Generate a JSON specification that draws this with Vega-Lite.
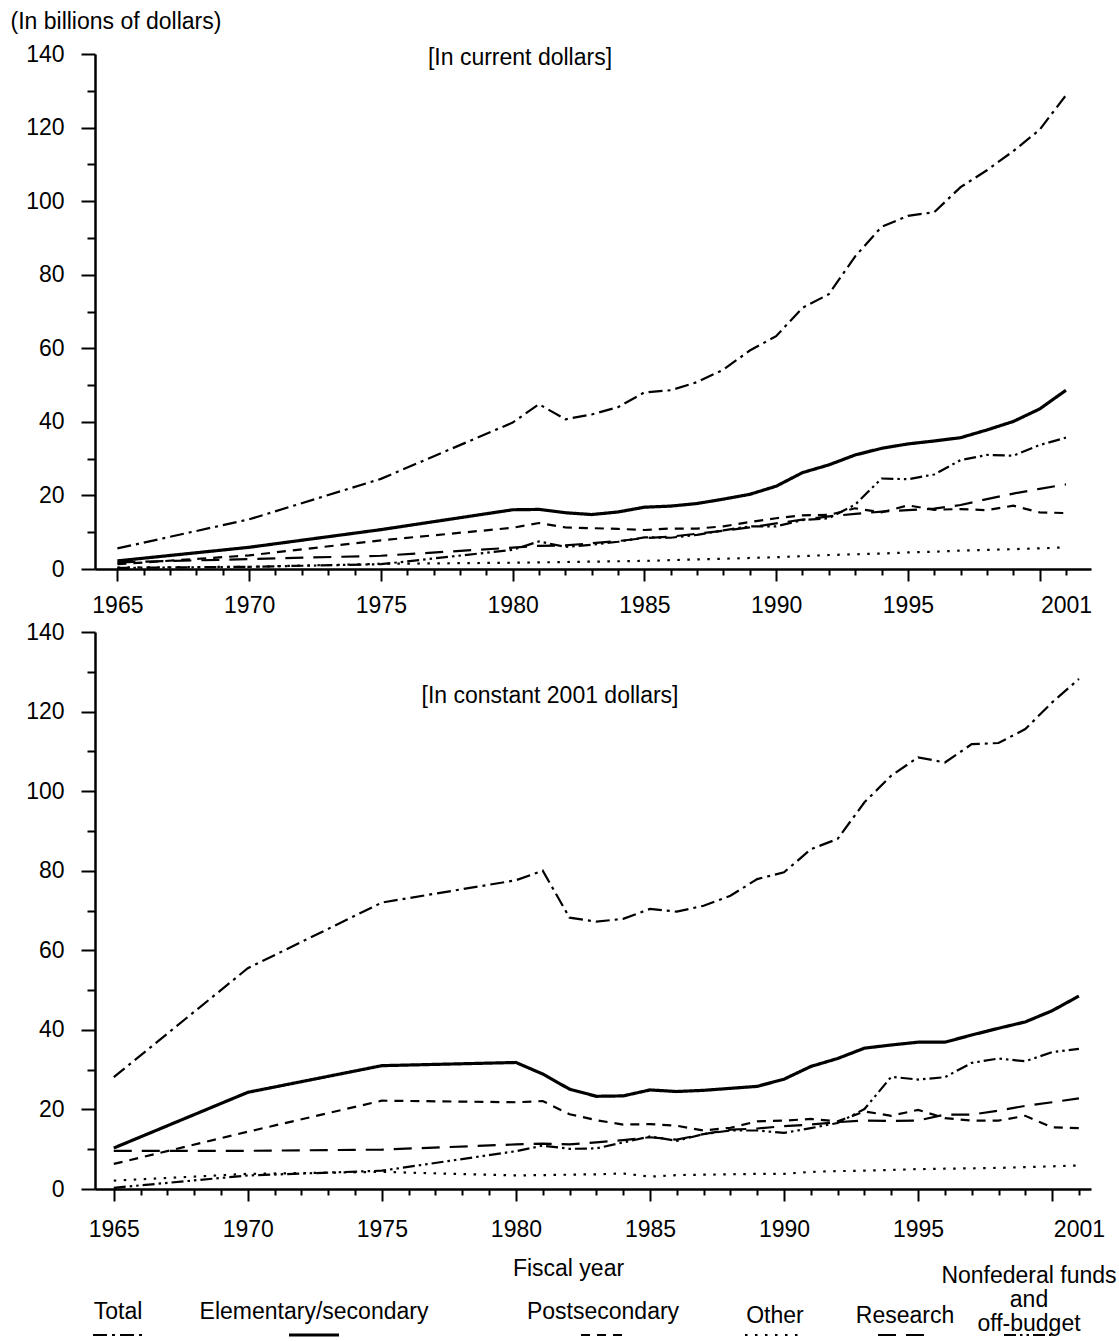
{
  "$schema": "https://vega.github.io/schema/vega-lite/v6.json",
  "padding": {"left": 10, "top": 10, "right": 0, "bottom": 0},
  "background": "white",
  "config": {
    "font": "Liberation Sans",
    "view": {"stroke": null},
    "axis": {"domainColor": "#000", "tickColor": "#000", "labelColor": "#000", "titleColor": "#000", "grid": false, "labelFontSize": 23, "titleFontSize": 23, "titleFontWeight": "normal", "domainWidth": 2.5, "tickWidth": 2, "labelFlush": false, "labelOverlap": false},
    "title": {"fontSize": 23, "fontWeight": "normal", "color": "#000"},
    "text": {"fontSize": 23, "color": "#000"}
  },
  "datasets": {
    "current": [
      {"year":1965,"series":"Total","value":5.6},{"year":1965,"series":"Elementary/secondary","value":2.2},{"year":1965,"series":"Postsecondary","value":1.3},{"year":1965,"series":"Other","value":0.4},{"year":1965,"series":"Research","value":1.8},{"year":1965,"series":"Nonfederal funds and off-budget","value":0.3},
      {"year":1970,"series":"Total","value":13.5},{"year":1970,"series":"Elementary/secondary","value":5.9},{"year":1970,"series":"Postsecondary","value":3.7},{"year":1970,"series":"Other","value":0.6},{"year":1970,"series":"Research","value":2.7},{"year":1970,"series":"Nonfederal funds and off-budget","value":0.6},
      {"year":1975,"series":"Total","value":24.5},{"year":1975,"series":"Elementary/secondary","value":10.7},{"year":1975,"series":"Postsecondary","value":7.8},{"year":1975,"series":"Other","value":1.4},{"year":1975,"series":"Research","value":3.6},{"year":1975,"series":"Nonfederal funds and off-budget","value":1.3},
      {"year":1980,"series":"Total","value":39.8},{"year":1980,"series":"Elementary/secondary","value":16.1},{"year":1980,"series":"Postsecondary","value":11.2},{"year":1980,"series":"Other","value":1.7},{"year":1980,"series":"Research","value":5.8},{"year":1980,"series":"Nonfederal funds and off-budget","value":5.2},
      {"year":1981,"series":"Total","value":44.8},{"year":1981,"series":"Elementary/secondary","value":16.2},{"year":1981,"series":"Postsecondary","value":12.5},{"year":1981,"series":"Other","value":1.8},{"year":1981,"series":"Research","value":6.3},{"year":1981,"series":"Nonfederal funds and off-budget","value":7.5},
      {"year":1982,"series":"Total","value":40.7},{"year":1982,"series":"Elementary/secondary","value":15.3},{"year":1982,"series":"Postsecondary","value":11.3},{"year":1982,"series":"Other","value":1.9},{"year":1982,"series":"Research","value":6.4},{"year":1982,"series":"Nonfederal funds and off-budget","value":6.0},
      {"year":1983,"series":"Total","value":42.0},{"year":1983,"series":"Elementary/secondary","value":14.8},{"year":1983,"series":"Postsecondary","value":11.1},{"year":1983,"series":"Other","value":2.0},{"year":1983,"series":"Research","value":7.0},{"year":1983,"series":"Nonfederal funds and off-budget","value":6.6},
      {"year":1984,"series":"Total","value":44.0},{"year":1984,"series":"Elementary/secondary","value":15.5},{"year":1984,"series":"Postsecondary","value":10.9},{"year":1984,"series":"Other","value":2.1},{"year":1984,"series":"Research","value":7.6},{"year":1984,"series":"Nonfederal funds and off-budget","value":7.4},
      {"year":1985,"series":"Total","value":48.0},{"year":1985,"series":"Elementary/secondary","value":16.8},{"year":1985,"series":"Postsecondary","value":10.6},{"year":1985,"series":"Other","value":2.2},{"year":1985,"series":"Research","value":8.4},{"year":1985,"series":"Nonfederal funds and off-budget","value":8.6},
      {"year":1986,"series":"Total","value":48.6},{"year":1986,"series":"Elementary/secondary","value":17.1},{"year":1986,"series":"Postsecondary","value":11.0},{"year":1986,"series":"Other","value":2.4},{"year":1986,"series":"Research","value":8.8},{"year":1986,"series":"Nonfederal funds and off-budget","value":8.5},
      {"year":1987,"series":"Total","value":50.8},{"year":1987,"series":"Elementary/secondary","value":17.8},{"year":1987,"series":"Postsecondary","value":11.0},{"year":1987,"series":"Other","value":2.6},{"year":1987,"series":"Research","value":9.6},{"year":1987,"series":"Nonfederal funds and off-budget","value":9.3},
      {"year":1988,"series":"Total","value":54.2},{"year":1988,"series":"Elementary/secondary","value":19.0},{"year":1988,"series":"Postsecondary","value":11.6},{"year":1988,"series":"Other","value":2.8},{"year":1988,"series":"Research","value":10.4},{"year":1988,"series":"Nonfederal funds and off-budget","value":10.5},
      {"year":1989,"series":"Total","value":59.4},{"year":1989,"series":"Elementary/secondary","value":20.3},{"year":1989,"series":"Postsecondary","value":12.8},{"year":1989,"series":"Other","value":3.0},{"year":1989,"series":"Research","value":11.3},{"year":1989,"series":"Nonfederal funds and off-budget","value":11.6},
      {"year":1990,"series":"Total","value":63.3},{"year":1990,"series":"Elementary/secondary","value":22.5},{"year":1990,"series":"Postsecondary","value":13.8},{"year":1990,"series":"Other","value":3.2},{"year":1990,"series":"Research","value":12.4},{"year":1990,"series":"Nonfederal funds and off-budget","value":11.6},
      {"year":1991,"series":"Total","value":71.0},{"year":1991,"series":"Elementary/secondary","value":26.2},{"year":1991,"series":"Postsecondary","value":14.6},{"year":1991,"series":"Other","value":3.5},{"year":1991,"series":"Research","value":13.4},{"year":1991,"series":"Nonfederal funds and off-budget","value":13.3},
      {"year":1992,"series":"Total","value":74.7},{"year":1992,"series":"Elementary/secondary","value":28.3},{"year":1992,"series":"Postsecondary","value":14.7},{"year":1992,"series":"Other","value":3.8},{"year":1992,"series":"Research","value":14.3},{"year":1992,"series":"Nonfederal funds and off-budget","value":13.8},
      {"year":1993,"series":"Total","value":85.0},{"year":1993,"series":"Elementary/secondary","value":31.0},{"year":1993,"series":"Postsecondary","value":16.5},{"year":1993,"series":"Other","value":4.0},{"year":1993,"series":"Research","value":15.0},{"year":1993,"series":"Nonfederal funds and off-budget","value":17.5},
      {"year":1994,"series":"Total","value":93.0},{"year":1994,"series":"Elementary/secondary","value":32.8},{"year":1994,"series":"Postsecondary","value":15.4},{"year":1994,"series":"Other","value":4.2},{"year":1994,"series":"Research","value":15.6},{"year":1994,"series":"Nonfederal funds and off-budget","value":24.6},
      {"year":1995,"series":"Total","value":96.0},{"year":1995,"series":"Elementary/secondary","value":34.0},{"year":1995,"series":"Postsecondary","value":17.3},{"year":1995,"series":"Other","value":4.5},{"year":1995,"series":"Research","value":16.0},{"year":1995,"series":"Nonfederal funds and off-budget","value":24.4},
      {"year":1996,"series":"Total","value":97.0},{"year":1996,"series":"Elementary/secondary","value":34.8},{"year":1996,"series":"Postsecondary","value":16.1},{"year":1996,"series":"Other","value":4.7},{"year":1996,"series":"Research","value":16.4},{"year":1996,"series":"Nonfederal funds and off-budget","value":25.7},
      {"year":1997,"series":"Total","value":103.8},{"year":1997,"series":"Elementary/secondary","value":35.7},{"year":1997,"series":"Postsecondary","value":16.3},{"year":1997,"series":"Other","value":5.0},{"year":1997,"series":"Research","value":17.4},{"year":1997,"series":"Nonfederal funds and off-budget","value":29.6},
      {"year":1998,"series":"Total","value":108.4},{"year":1998,"series":"Elementary/secondary","value":37.8},{"year":1998,"series":"Postsecondary","value":16.0},{"year":1998,"series":"Other","value":5.2},{"year":1998,"series":"Research","value":19.0},{"year":1998,"series":"Nonfederal funds and off-budget","value":31.0},
      {"year":1999,"series":"Total","value":113.6},{"year":1999,"series":"Elementary/secondary","value":40.1},{"year":1999,"series":"Postsecondary","value":17.2},{"year":1999,"series":"Other","value":5.4},{"year":1999,"series":"Research","value":20.5},{"year":1999,"series":"Nonfederal funds and off-budget","value":30.8},
      {"year":2000,"series":"Total","value":119.4},{"year":2000,"series":"Elementary/secondary","value":43.5},{"year":2000,"series":"Postsecondary","value":15.4},{"year":2000,"series":"Other","value":5.6},{"year":2000,"series":"Research","value":21.8},{"year":2000,"series":"Nonfederal funds and off-budget","value":33.7},
      {"year":2001,"series":"Total","value":128.8},{"year":2001,"series":"Elementary/secondary","value":48.6},{"year":2001,"series":"Postsecondary","value":15.2},{"year":2001,"series":"Other","value":5.9},{"year":2001,"series":"Research","value":23.0},{"year":2001,"series":"Nonfederal funds and off-budget","value":35.7}
    ],
    "constant": [
      {"year":1965,"series":"Total","value":28.1},{"year":1965,"series":"Elementary/secondary","value":10.3},{"year":1965,"series":"Postsecondary","value":6.3},{"year":1965,"series":"Other","value":2.1},{"year":1965,"series":"Research","value":9.6},{"year":1965,"series":"Nonfederal funds and off-budget","value":0.3},
      {"year":1970,"series":"Total","value":55.5},{"year":1970,"series":"Elementary/secondary","value":24.3},{"year":1970,"series":"Postsecondary","value":14.4},{"year":1970,"series":"Other","value":3.8},{"year":1970,"series":"Research","value":9.6},{"year":1970,"series":"Nonfederal funds and off-budget","value":3.4},
      {"year":1975,"series":"Total","value":72.0},{"year":1975,"series":"Elementary/secondary","value":31.0},{"year":1975,"series":"Postsecondary","value":22.2},{"year":1975,"series":"Other","value":4.3},{"year":1975,"series":"Research","value":9.9},{"year":1975,"series":"Nonfederal funds and off-budget","value":4.6},
      {"year":1980,"series":"Total","value":77.6},{"year":1980,"series":"Elementary/secondary","value":31.8},{"year":1980,"series":"Postsecondary","value":21.8},{"year":1980,"series":"Other","value":3.4},{"year":1980,"series":"Research","value":11.2},{"year":1980,"series":"Nonfederal funds and off-budget","value":9.5},
      {"year":1981,"series":"Total","value":80.0},{"year":1981,"series":"Elementary/secondary","value":28.9},{"year":1981,"series":"Postsecondary","value":22.1},{"year":1981,"series":"Other","value":3.5},{"year":1981,"series":"Research","value":11.4},{"year":1981,"series":"Nonfederal funds and off-budget","value":10.9},
      {"year":1982,"series":"Total","value":68.2},{"year":1982,"series":"Elementary/secondary","value":25.1},{"year":1982,"series":"Postsecondary","value":18.8},{"year":1982,"series":"Other","value":3.6},{"year":1982,"series":"Research","value":11.2},{"year":1982,"series":"Nonfederal funds and off-budget","value":10.1},
      {"year":1983,"series":"Total","value":67.2},{"year":1983,"series":"Elementary/secondary","value":23.3},{"year":1983,"series":"Postsecondary","value":17.3},{"year":1983,"series":"Other","value":3.7},{"year":1983,"series":"Research","value":11.7},{"year":1983,"series":"Nonfederal funds and off-budget","value":10.2},
      {"year":1984,"series":"Total","value":67.9},{"year":1984,"series":"Elementary/secondary","value":23.4},{"year":1984,"series":"Postsecondary","value":16.2},{"year":1984,"series":"Other","value":3.9},{"year":1984,"series":"Research","value":12.3},{"year":1984,"series":"Nonfederal funds and off-budget","value":11.7},
      {"year":1985,"series":"Total","value":70.4},{"year":1985,"series":"Elementary/secondary","value":24.9},{"year":1985,"series":"Postsecondary","value":16.3},{"year":1985,"series":"Other","value":3.1},{"year":1985,"series":"Research","value":13.0},{"year":1985,"series":"Nonfederal funds and off-budget","value":13.2},
      {"year":1986,"series":"Total","value":69.7},{"year":1986,"series":"Elementary/secondary","value":24.5},{"year":1986,"series":"Postsecondary","value":15.9},{"year":1986,"series":"Other","value":3.5},{"year":1986,"series":"Research","value":12.4},{"year":1986,"series":"Nonfederal funds and off-budget","value":12.1},
      {"year":1987,"series":"Total","value":71.2},{"year":1987,"series":"Elementary/secondary","value":24.8},{"year":1987,"series":"Postsecondary","value":14.7},{"year":1987,"series":"Other","value":3.6},{"year":1987,"series":"Research","value":13.8},{"year":1987,"series":"Nonfederal funds and off-budget","value":13.8},
      {"year":1988,"series":"Total","value":73.7},{"year":1988,"series":"Elementary/secondary","value":25.3},{"year":1988,"series":"Postsecondary","value":15.4},{"year":1988,"series":"Other","value":3.7},{"year":1988,"series":"Research","value":14.9},{"year":1988,"series":"Nonfederal funds and off-budget","value":14.7},
      {"year":1989,"series":"Total","value":77.9},{"year":1989,"series":"Elementary/secondary","value":25.8},{"year":1989,"series":"Postsecondary","value":17.0},{"year":1989,"series":"Other","value":3.8},{"year":1989,"series":"Research","value":15.2},{"year":1989,"series":"Nonfederal funds and off-budget","value":14.7},
      {"year":1990,"series":"Total","value":79.6},{"year":1990,"series":"Elementary/secondary","value":27.6},{"year":1990,"series":"Postsecondary","value":17.2},{"year":1990,"series":"Other","value":3.8},{"year":1990,"series":"Research","value":15.8},{"year":1990,"series":"Nonfederal funds and off-budget","value":14.1},
      {"year":1991,"series":"Total","value":85.4},{"year":1991,"series":"Elementary/secondary","value":30.8},{"year":1991,"series":"Postsecondary","value":17.6},{"year":1991,"series":"Other","value":4.3},{"year":1991,"series":"Research","value":16.2},{"year":1991,"series":"Nonfederal funds and off-budget","value":15.3},
      {"year":1992,"series":"Total","value":88.0},{"year":1992,"series":"Elementary/secondary","value":32.8},{"year":1992,"series":"Postsecondary","value":17.0},{"year":1992,"series":"Other","value":4.5},{"year":1992,"series":"Research","value":16.8},{"year":1992,"series":"Nonfederal funds and off-budget","value":16.6},
      {"year":1993,"series":"Total","value":97.2},{"year":1993,"series":"Elementary/secondary","value":35.4},{"year":1993,"series":"Postsecondary","value":19.5},{"year":1993,"series":"Other","value":4.6},{"year":1993,"series":"Research","value":17.2},{"year":1993,"series":"Nonfederal funds and off-budget","value":20.1},
      {"year":1994,"series":"Total","value":103.9},{"year":1994,"series":"Elementary/secondary","value":36.2},{"year":1994,"series":"Postsecondary","value":18.4},{"year":1994,"series":"Other","value":4.8},{"year":1994,"series":"Research","value":17.1},{"year":1994,"series":"Nonfederal funds and off-budget","value":28.2},
      {"year":1995,"series":"Total","value":108.5},{"year":1995,"series":"Elementary/secondary","value":36.9},{"year":1995,"series":"Postsecondary","value":19.9},{"year":1995,"series":"Other","value":5.0},{"year":1995,"series":"Research","value":17.2},{"year":1995,"series":"Nonfederal funds and off-budget","value":27.5},
      {"year":1996,"series":"Total","value":107.2},{"year":1996,"series":"Elementary/secondary","value":36.9},{"year":1996,"series":"Postsecondary","value":17.8},{"year":1996,"series":"Other","value":5.1},{"year":1996,"series":"Research","value":18.7},{"year":1996,"series":"Nonfederal funds and off-budget","value":28.1},
      {"year":1997,"series":"Total","value":111.8},{"year":1997,"series":"Elementary/secondary","value":38.7},{"year":1997,"series":"Postsecondary","value":17.2},{"year":1997,"series":"Other","value":5.2},{"year":1997,"series":"Research","value":18.7},{"year":1997,"series":"Nonfederal funds and off-budget","value":31.7},
      {"year":1998,"series":"Total","value":112.1},{"year":1998,"series":"Elementary/secondary","value":40.4},{"year":1998,"series":"Postsecondary","value":17.2},{"year":1998,"series":"Other","value":5.3},{"year":1998,"series":"Research","value":19.7},{"year":1998,"series":"Nonfederal funds and off-budget","value":32.8},
      {"year":1999,"series":"Total","value":115.6},{"year":1999,"series":"Elementary/secondary","value":42.0},{"year":1999,"series":"Postsecondary","value":18.4},{"year":1999,"series":"Other","value":5.5},{"year":1999,"series":"Research","value":20.9},{"year":1999,"series":"Nonfederal funds and off-budget","value":32.1},
      {"year":2000,"series":"Total","value":122.3},{"year":2000,"series":"Elementary/secondary","value":44.8},{"year":2000,"series":"Postsecondary","value":15.5},{"year":2000,"series":"Other","value":5.7},{"year":2000,"series":"Research","value":21.8},{"year":2000,"series":"Nonfederal funds and off-budget","value":34.4},
      {"year":2001,"series":"Total","value":128.2},{"year":2001,"series":"Elementary/secondary","value":48.5},{"year":2001,"series":"Postsecondary","value":15.3},{"year":2001,"series":"Other","value":5.9},{"year":2001,"series":"Research","value":22.8},{"year":2001,"series":"Nonfederal funds and off-budget","value":35.2}
    ],
    "legend": [
      {"series":"Total","label":"Total"},
      {"series":"Elementary/secondary","label":"Elementary/secondary"},
      {"series":"Postsecondary","label":"Postsecondary"},
      {"series":"Other","label":"Other"},
      {"series":"Research","label":"Research"},
      {"series":"Nonfederal funds and off-budget","label":"Nonfederal funds\nand\noff-budget"}
    ]
  },
  "bounds": "flush",
  "spacing": 63,
  "vconcat": [
    {
      "width": 996,
      "height": 515,
      "data": {"name": "current"},
      "title": {"text": "[In current dollars]", "frame": "group", "anchor": "middle", "baseline": "middle", "offset": 0, "dx": -73, "dy": 71},
      "mark": {"type": "line", "color": "#000", "strokeCap": "butt"},
      "encoding": {
        "x": {"field": "year", "type": "quantitative", "scale": {"domain": [1964.15, 2001.95], "nice": false, "zero": false},
          "axis": {"title": null, "format": "d", "values": [1965,1966,1967,1968,1969,1970,1971,1972,1973,1974,1975,1976,1977,1978,1979,1980,1981,1982,1983,1984,1985,1986,1987,1988,1989,1990,1991,1992,1993,1994,1995,1996,1997,1998,1999,2000,2001],
            "labelExpr": "(((datum.value - 1965) % 5 === 0) && datum.value < 2000) || datum.value === 2001 ? datum.label : ''",
            "tickSize": {"condition": {"test": "(datum.value - 1965) % 5 === 0", "value": 12}, "value": 6},
            "labelPadding": {"condition": {"test": "(datum.value - 1965) % 5 === 0", "value": 13}, "value": 19}}},
        "y": {"field": "value", "type": "quantitative", "scale": {"domain": [0, 140], "nice": false},
          "axis": {"values": [0,10,20,30,40,50,60,70,80,90,100,110,120,130,140],
            "labelExpr": "datum.value % 20 === 0 ? datum.label : ''",
            "tickSize": {"condition": {"test": "datum.value % 20 === 0", "value": 14}, "value": 8},
            "labelPadding": {"condition": {"test": "datum.value % 20 === 0", "value": 17}, "value": 23},
            "title": "(In billions of dollars)", "titleAngle": 0, "titleAlign": "left", "titleBaseline": "middle", "titleX": -85, "titleY": -33}},
        "strokeDash": {"field": "series", "type": "nominal", "legend": null,
          "scale": {"domain": ["Total","Elementary/secondary","Postsecondary","Other","Research","Nonfederal funds and off-budget"],
            "range": [[14,5,3,5],[1,0],[9,7],[2.5,7.5],[18,10],[12,4,2.5,4,2.5,4]]}},
        "strokeWidth": {"condition": {"test": "datum.series === 'Elementary/secondary'", "value": 3.2}, "value": 2.2}
      }
    },
    {
      "width": 996,
      "height": 557,
      "data": {"name": "constant"},
      "title": {"text": "[In constant 2001 dollars]", "frame": "group", "anchor": "middle", "baseline": "middle", "offset": 0, "dx": -43, "dy": 98},
      "mark": {"type": "line", "color": "#000", "strokeCap": "butt"},
      "encoding": {
        "x": {"field": "year", "type": "quantitative", "scale": {"domain": [1964.3, 2001.45], "nice": false, "zero": false},
          "axis": {"title": "Fiscal year", "titlePadding": 16, "titleX": 473, "format": "d", "values": [1965,1966,1967,1968,1969,1970,1971,1972,1973,1974,1975,1976,1977,1978,1979,1980,1981,1982,1983,1984,1985,1986,1987,1988,1989,1990,1991,1992,1993,1994,1995,1996,1997,1998,1999,2000,2001],
            "labelExpr": "(((datum.value - 1965) % 5 === 0) && datum.value < 2000) || datum.value === 2001 ? datum.label : ''",
            "tickSize": {"condition": {"test": "(datum.value - 1965) % 5 === 0", "value": 12}, "value": 6},
            "labelPadding": {"condition": {"test": "(datum.value - 1965) % 5 === 0", "value": 17}, "value": 23}}},
        "y": {"field": "value", "type": "quantitative", "scale": {"domain": [0, 140], "nice": false},
          "axis": {"title": null, "values": [0,10,20,30,40,50,60,70,80,90,100,110,120,130,140],
            "labelExpr": "datum.value % 20 === 0 ? datum.label : ''",
            "tickSize": {"condition": {"test": "datum.value % 20 === 0", "value": 14}, "value": 8},
            "labelPadding": {"condition": {"test": "datum.value % 20 === 0", "value": 17}, "value": 23}}},
        "strokeDash": {"field": "series", "type": "nominal", "legend": null,
          "scale": {"domain": ["Total","Elementary/secondary","Postsecondary","Other","Research","Nonfederal funds and off-budget"],
            "range": [[14,5,3,5],[1,0],[9,7],[2.5,7.5],[18,10],[12,4,2.5,4,2.5,4]]}},
        "strokeWidth": {"condition": {"test": "datum.series === 'Elementary/secondary'", "value": 3.2}, "value": 2.2}
      }
    },
    {
      "bounds": "flush",
      "spacing": 0,
      "hconcat": [
        {"width": 46, "height": 88, "data": {"name": "legend"}, "transform": [{"filter": "datum.series === 'Total'"}],
          "encoding": {"x": {"field": "series", "type": "nominal", "axis": null}},
          "layer": [
            {"mark": {"type": "text", "baseline": "bottom", "lineBreak": "\n", "lineHeight": 18, "dy": 28}, "encoding": {"text": {"field": "label"}}},
            {"mark": {"type": "rule", "color": "#000", "strokeWidth": 2.2, "strokeDash": [14,5,3,5], "xOffset": -25, "x2Offset": 25, "yOffset": 39}, "encoding": {"x2": {"field": "series"}}}
          ]},
        {"width": 346, "height": 88, "data": {"name": "legend"}, "transform": [{"filter": "datum.series === 'Elementary/secondary'"}],
          "encoding": {"x": {"field": "series", "type": "nominal", "axis": null}},
          "layer": [
            {"mark": {"type": "text", "baseline": "bottom", "lineBreak": "\n", "lineHeight": 18, "dy": 28}, "encoding": {"text": {"field": "label"}}},
            {"mark": {"type": "rule", "color": "#000", "strokeWidth": 3.2, "xOffset": -25, "x2Offset": 25, "yOffset": 39}, "encoding": {"x2": {"field": "series"}}}
          ]},
        {"width": 232, "height": 88, "data": {"name": "legend"}, "transform": [{"filter": "datum.series === 'Postsecondary'"}],
          "encoding": {"x": {"field": "series", "type": "nominal", "axis": null}},
          "layer": [
            {"mark": {"type": "text", "baseline": "bottom", "lineBreak": "\n", "lineHeight": 18, "dy": 28}, "encoding": {"text": {"field": "label"}}},
            {"mark": {"type": "rule", "color": "#000", "strokeWidth": 2.2, "strokeDash": [9,7], "xOffset": -22, "x2Offset": 22, "yOffset": 39}, "encoding": {"x2": {"field": "series"}}}
          ]},
        {"width": 112, "height": 88, "data": {"name": "legend"}, "transform": [{"filter": "datum.series === 'Other'"}],
          "encoding": {"x": {"field": "series", "type": "nominal", "axis": null}},
          "layer": [
            {"mark": {"type": "text", "baseline": "bottom", "lineBreak": "\n", "lineHeight": 18, "dy": 32}, "encoding": {"text": {"field": "label"}}},
            {"mark": {"type": "rule", "color": "#000", "strokeWidth": 2.2, "strokeDash": [2.5,7.5], "xOffset": -30, "x2Offset": 30, "yOffset": 39}, "encoding": {"x2": {"field": "series"}}}
          ]},
        {"width": 148, "height": 88, "data": {"name": "legend"}, "transform": [{"filter": "datum.series === 'Research'"}],
          "encoding": {"x": {"field": "series", "type": "nominal", "axis": null}},
          "layer": [
            {"mark": {"type": "text", "baseline": "bottom", "lineBreak": "\n", "lineHeight": 18, "dy": 32}, "encoding": {"text": {"field": "label"}}},
            {"mark": {"type": "rule", "color": "#000", "strokeWidth": 2.2, "strokeDash": [18,10], "xOffset": -27, "x2Offset": 27, "yOffset": 39}, "encoding": {"x2": {"field": "series"}}}
          ]},
        {"width": 100, "height": 88, "data": {"name": "legend"}, "transform": [{"filter": "datum.series === 'Nonfederal funds and off-budget'"}],
          "encoding": {"x": {"field": "series", "type": "nominal", "axis": null}},
          "layer": [
            {"mark": {"type": "text", "baseline": "bottom", "lineBreak": "\n", "lineHeight": 24, "dy": -8}, "encoding": {"text": {"field": "label"}}},
            {"mark": {"type": "rule", "color": "#000", "strokeWidth": 2.2, "strokeDash": [12,4,2.5,4,2.5,4], "xOffset": -25, "x2Offset": 25, "yOffset": 39}, "encoding": {"x2": {"field": "series"}}}
          ]}
      ]
    }
  ]
}
